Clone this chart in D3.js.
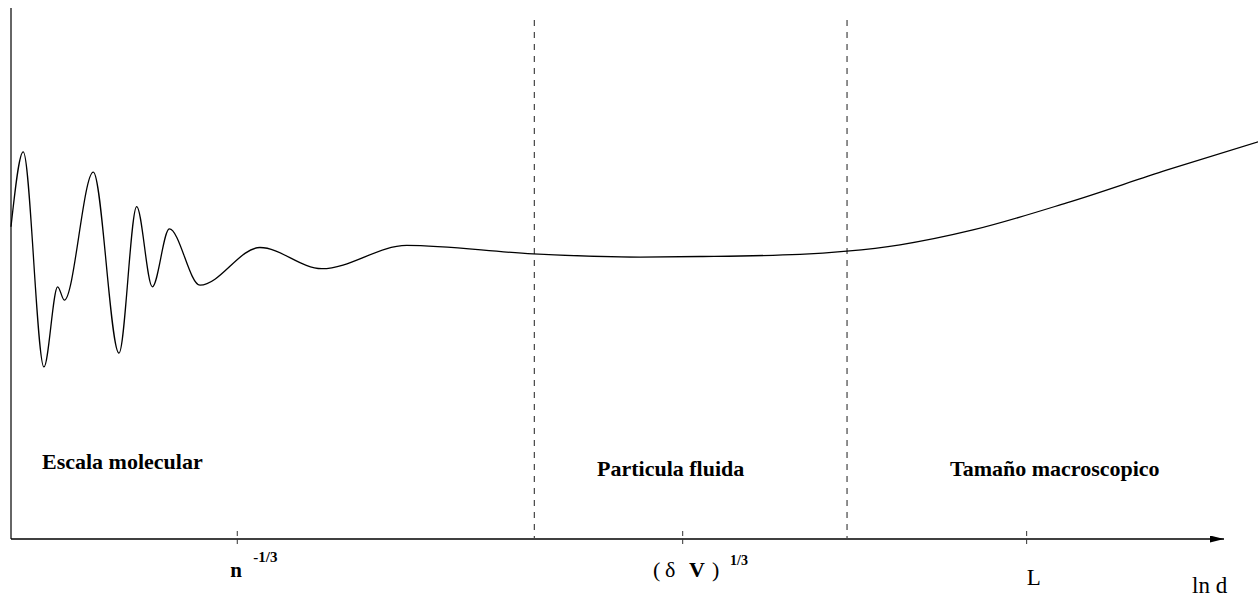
<!DOCTYPE html>
<html>
<head>
<meta charset="utf-8">
<script src="https://cdn.jsdelivr.net/npm/d3@7"></script>
<style>
  body { margin: 0; background: #fff; }
  text { font-family: "Liberation Serif", "Times New Roman", serif; }
</style>
</head>
<body>
<div id="chart"></div>
<script>
// curve (x and y in 0..100 units of the axes)
var curveX = [0, 1.01, 2.72, 3.85, 4.40, 6.79, 8.91, 10.37, 11.66, 13.06, 15.59, 20.54, 25.64, 32.65,
              43.07, 51.9, 56.85, 65.1, 68.95, 73.35, 79.37, 87.1, 95.4, 102.9];
var curveY = [58.8, 72.9, 32.4, 47.5, 45.0, 69.1, 35.0, 62.6, 47.5, 58.4, 47.8, 54.9, 50.9, 55.3,
              53.7, 53.1, 53.2, 53.6, 54.2, 55.4, 58.2, 63.3, 69.5, 74.8];

// region boundaries and axis ticks
var boundaries = [43.18, 68.98];
var tickValues = [18.67, 55.42, 83.8];
var regionNames = ["Escala molecular", "Particula fluida", "Tamaño macroscopico"];

var width = 1258, height = 597;

var svg = d3.select("#chart")
  .append("svg")
    .attr("width", width)
    .attr("height", height);

var x = d3.scaleLinear()
  .domain([0, 100])
  .range([11, 1223]);

var y = d3.scaleLinear()
  .domain([0, 100])
  .range([539, 8]);

// arrow head for the x axis
svg.append("defs").append("marker")
    .attr("id", "arrow")
    .attr("viewBox", "0 0 14 7")
    .attr("refX", 14)
    .attr("refY", 3.5)
    .attr("markerWidth", 14)
    .attr("markerHeight", 7)
    .attr("markerUnits", "userSpaceOnUse")
    .attr("orient", "auto")
  .append("path")
    .attr("d", "M0,0 L14,3.5 L0,7 Z")
    .style("fill", "#000")

// y axis
svg.append("line")
    .attr("x1", x(0)).attr("x2", x(0))
    .attr("y1", y(100)).attr("y2", y(0))
    .attr("stroke", "#333")
    .style("stroke-width", 1.5)

// x axis
svg.append("line")
    .attr("x1", x(0)).attr("x2", x(100) + 1)
    .attr("y1", y(0)).attr("y2", y(0))
    .attr("stroke", "#000")
    .style("stroke-width", 1.5)
    .attr("marker-end", "url(#arrow)")

// dashed ticks crossing the axis
svg.selectAll(".tick")
  .data(tickValues)
  .enter()
  .append("line")
    .attr("class", "tick")
    .attr("x1", function(d) { return x(d) })
    .attr("x2", function(d) { return x(d) })
    .attr("y1", y(0) - 8)
    .attr("y2", y(0) + 8)
    .attr("stroke", "#333")
    .style("stroke-width", 1)
    .style("stroke-dasharray", "5,3")

// dashed region boundaries
svg.selectAll(".bound")
  .data(boundaries)
  .enter()
  .append("line")
    .attr("class", "bound")
    .attr("x1", function(d) { return x(d) })
    .attr("x2", function(d) { return x(d) })
    .attr("y1", 20)
    .attr("y2", y(0))
    .attr("stroke", "#444")
    .style("stroke-width", 1.2)
    .style("stroke-dasharray", "6,6")

// the curve
var pts = curveX.map(function(d, i) { return {x: d, y: curveY[i]} });
svg.append("path")
    .datum(pts)
    .attr("d", d3.line()
      .x(function(d) { return x(d.x) })
      .y(function(d) { return y(d.y) })
      .curve(d3.curveMonotoneX)
    )
    .attr("stroke", "#000")
    .style("stroke-width", 1.3)
    .style("fill", "none")

// region labels
var labelPos = [[42, 469], [597, 476], [950, 476]];
svg.selectAll(".region")
  .data(regionNames)
  .enter()
  .append("text")
    .attr("class", "region")
    .attr("x", function(d, i) { return labelPos[i][0] })
    .attr("y", function(d, i) { return labelPos[i][1] })
    .style("font-weight", "bold")
    .style("font-size", "22px")
    .text(function(d) { return d })

// tick labels
var t1 = svg.append("text")
    .attr("x", x(tickValues[0]) - 7)
    .attr("y", 577)
    .style("font-weight", "bold")
    .style("font-size", "21px")
t1.append("tspan").text("n")
t1.append("tspan")
    .attr("x", x(tickValues[0]) + 16)
    .attr("y", 562)
    .style("font-size", "15px")
    .text("-1/3")

var t2 = svg.append("text")
    .attr("y", 577)
    .style("font-weight", "bold")
    .style("font-size", "22px")
t2.append("tspan").attr("x", 653).style("font-weight", "normal").text("(")
t2.append("tspan").attr("x", 665).style("font-weight", "normal").text("δ")
t2.append("tspan").attr("x", 689).text("V")
t2.append("tspan").attr("x", 712).style("font-weight", "normal").text(")")
t2.append("tspan")
    .attr("x", 730)
    .attr("y", 565)
    .style("font-size", "14px")
    .text("1/3")

svg.append("text")
    .attr("x", x(tickValues[2]))
    .attr("y", 585)
    .style("font-size", "23px")
    .text("L")

svg.append("text")
    .attr("x", 1192)
    .attr("y", 593)
    .style("font-size", "23px")
    .text("ln d")
</script>
</body>
</html>
